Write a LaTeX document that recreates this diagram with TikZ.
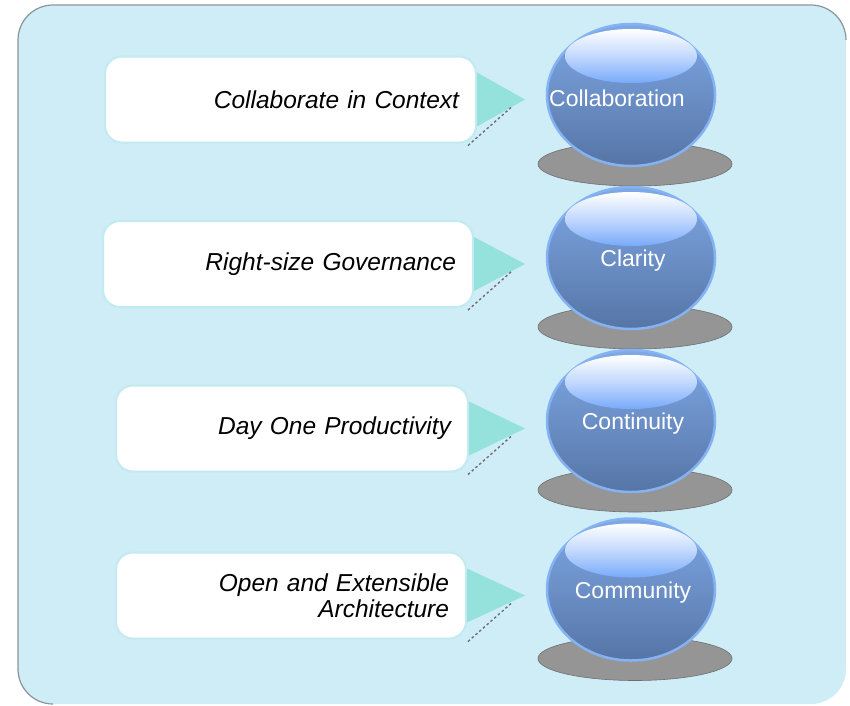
\documentclass[tikz,border=0pt]{standalone}
\usepackage{fontspec}
\setmainfont{Liberation Sans}
\usetikzlibrary{shapes.geometric,calc}
\definecolor{panelbg}{HTML}{CFEDF7}
\definecolor{paneledge}{HTML}{8A949A}
\definecolor{cardrim}{HTML}{C2EAF0}
\definecolor{pointerfill}{HTML}{95E2DD}
\definecolor{balltop}{HTML}{7FA8E6}
\definecolor{ballbot}{HTML}{5675A6}
\definecolor{ballrim}{HTML}{85B2F2}
\definecolor{glossbot}{HTML}{78AAFA}
\definecolor{ground}{HTML}{959595}
\definecolor{groundrim}{HTML}{6F6F6F}

\begin{document}
\begin{tikzpicture}[x=1pt,y=-1pt,
  card/.style={draw=cardrim,line width=2pt,fill=white,rounded corners=17pt,
    minimum height=86pt,inner xsep=17pt,align=right,
    font=\fontsize{24.5}{26}\selectfont\itshape},
  ball/.style={ellipse,draw=ballrim,line width=2.5pt,top color=balltop,
    bottom color=ballbot,minimum width=168pt,minimum height=142pt,inner sep=0pt},
  balllabel/.style={text=white,font=\fontsize{23}{26}\selectfont},
  pointer/.style={fill=pointerfill},
  dropline/.style={draw=groundrim,line width=1.4pt,dash pattern=on 2.5pt off 2.5pt}]
  \useasboundingbox (0,0) rectangle (850,705);
  \fill[panelbg,rounded corners=35pt] (18,5) rectangle (846,704);
  \draw[paneledge,line width=1.2pt,rounded corners=35pt]
    (53,704) -- (18,704) -- (18,5) -- (846,5) -- (846,40);
  \foreach \i/\y/\l/\r/\txt/\by/\lx/\word in {
      1/99.5/105/476/{Collaborate in Context}/95/-14/Collaboration,
      2/264/103/473/{Right-size Governance}/258/2/Clarity,
      3/428.5/116/468/{Day One Productivity}/421/2/Continuity,
      4/595.5/116/466/{Open and Extensible\\Architecture}/589.5/2/Community} {
    \pgfmathsetmacro\tw{\r-\l-34}
    \node[card,text width=\tw pt] (card\i) at ({(\l+\r)/2},\y) {\txt};
    \coordinate (tip\i) at (525,\y);
    \fill[pointer] ($(card\i.east)+(0,-27)$) -- (tip\i) -- ($(card\i.east)+(0,27)$) -- cycle;
    \draw[dropline] ($(tip\i)+(-57,46)$) -- ($(tip\i)+(-14,8)$);
    \filldraw[fill=ground,draw=groundrim,line width=0.6pt] (635,\by+69) ellipse [x radius=97pt,y radius=22pt];
    \node[ball] (ball\i) at (631,\by) {};
    \shade[top color=white,bottom color=glossbot,middle color=glossbot!45!white]
      ($(ball\i)+(0,-39)$) ellipse [x radius=66pt,y radius=27pt];
    \node[balllabel] (lab\i) at ($(ball\i)+(\lx,3)$) {\word};
  }
\end{tikzpicture}
\end{document}
